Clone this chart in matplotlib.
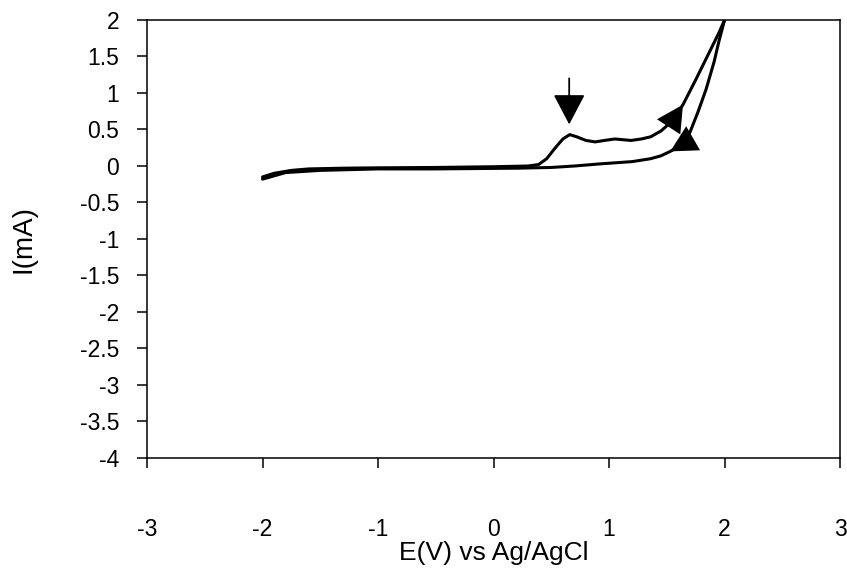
import matplotlib
matplotlib.use("Agg")
import matplotlib.pyplot as plt

# Cyclic voltammogram
forward_E = [-2.0, -1.9, -1.75, -1.6, -1.3, -1.0, -0.5, 0.0, 0.3, 0.39, 0.46, 0.53,
             0.60, 0.66, 0.72, 0.80, 0.88, 0.96, 1.05, 1.12, 1.19, 1.28, 1.36, 1.45,
             1.55, 1.64, 1.75, 1.85, 1.95, 2.0]
forward_I = [-0.15, -0.10, -0.06, -0.04, -0.03, -0.025, -0.02, -0.01, 0.0, 0.02, 0.10, 0.24,
             0.37, 0.43, 0.40, 0.35, 0.33, 0.35, 0.37, 0.36, 0.35, 0.37, 0.40, 0.48,
             0.62, 0.84, 1.18, 1.50, 1.82, 2.0]

reverse_E = [2.0, 1.95, 1.91, 1.84, 1.77, 1.70, 1.62, 1.53, 1.45, 1.36, 1.2, 0.93,
             0.7, 0.5, 0.2, -0.5, -1.0, -1.5, -1.8, -2.0]
reverse_I = [2.0, 1.70, 1.43, 1.05, 0.74, 0.46, 0.28, 0.20, 0.14, 0.10, 0.06, 0.03,
             0.0, -0.02, -0.03, -0.04, -0.04, -0.06, -0.09, -0.18]

x_ticks = [-3, -2, -1, 0, 1, 2, 3]
y_ticks = [2, 1.5, 1, 0.5, 0, -0.5, -1, -1.5, -2, -2.5, -3, -3.5, -4]

# arrows: (tip, tail) in data units; only the heads are drawn on the curve
scan_arrows = [((1.64, 0.84), (1.37, 0.18)),   # forward scan
               ((1.53, 0.20), (1.86, 0.50))]   # reverse scan
peak_arrow = ((0.655, 0.57), (0.655, 1.20))

plt.rcParams['font.family'] = ['Liberation Sans', 'DejaVu Sans']

fig = plt.figure(figsize=(8.47, 5.73), dpi=100)
ax = fig.add_axes([0.1736, 0.2007, 0.8182, 0.7644])

ax.plot(forward_E, forward_I, color='black', lw=2.2, solid_capstyle='round')
ax.plot(reverse_E, reverse_I, color='black', lw=2.2, solid_capstyle='round')

head = '-|>,head_length=0.95,head_width=0.5'
for tip, tail in scan_arrows:
    ax.annotate('', xy=tip, xytext=tail,
                arrowprops=dict(arrowstyle=head, color='black', lw=0,
                                mutation_scale=20, shrinkA=0, shrinkB=0))

ax.annotate('', xy=peak_arrow[0], xytext=peak_arrow[1],
            arrowprops=dict(arrowstyle=head, color='black', lw=1.3,
                            mutation_scale=20, shrinkA=0, shrinkB=0))

ax.set_xlim(-3, 3)
ax.set_ylim(-4, 2)
ax.set_xticks(x_ticks)
ax.set_yticks(y_ticks)
ax.set_xticklabels([str(t) for t in x_ticks])
ax.set_yticklabels([f'{t:g}' for t in y_ticks])

for s in ax.spines.values():
    s.set_linewidth(1.1)
ax.tick_params(axis='x', direction='out', length=7, width=1.1, pad=36, labelsize=16.5)
ax.tick_params(axis='y', direction='out', length=7, width=1.1, pad=13, labelsize=16.5)

ax.set_xlabel('E(V) vs Ag/AgCl', fontsize=19, labelpad=0)
ax.set_ylabel('I(mA)', fontsize=20, labelpad=31)

fig.savefig('out.png', dpi=100)
